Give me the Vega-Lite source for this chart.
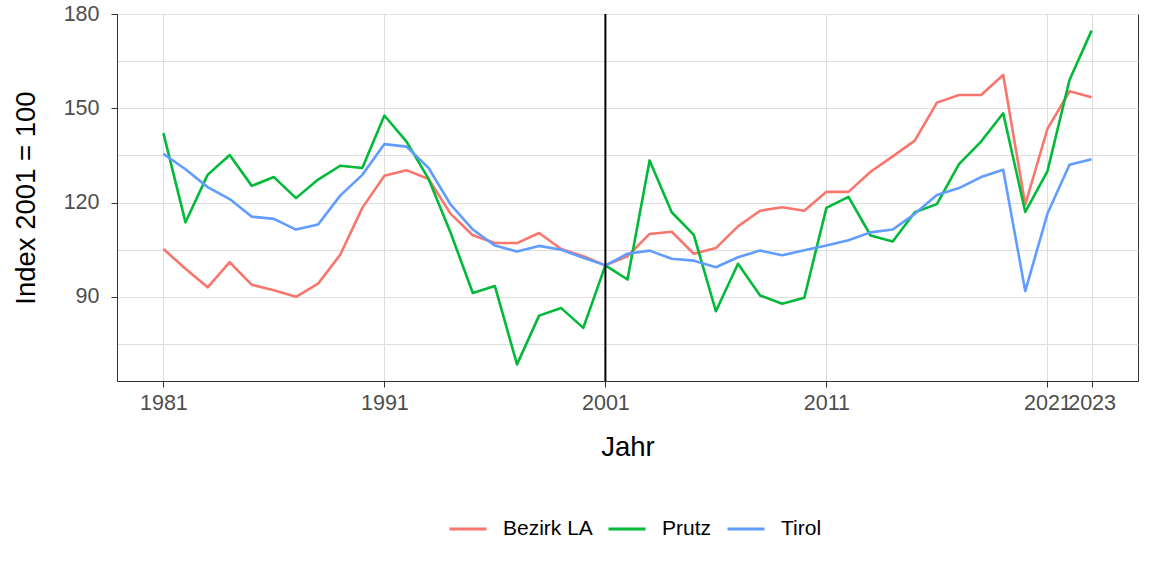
{
  "$schema": "https://vega.github.io/schema/vega-lite/v6.json",
  "width": 1021,
  "height": 367,
  "autosize": {"type": "none"},
  "padding": {"left": 117, "top": 14, "right": 14, "bottom": 195},
  "background": "white",
  "config": {
    "font": "Liberation Sans",
    "view": {"stroke": "#333333", "strokeWidth": 1},
    "axis": {
      "domainColor": "#333333",
      "tickColor": "#333333",
      "gridColor": "#DEDEDE",
      "gridWidth": 1,
      "labelColor": "#4D4D4D",
      "labelFontSize": 21.5,
      "titleFontSize": 27.5,
      "titleFontWeight": "normal",
      "titleColor": "#000000",
      "tickSize": 6
    }
  },
  "datasets": {
    "vline": [{"Jahr": 2001}]
  },
  "data": {
    "values": [
      {"Jahr": 1981, "Region": "Bezirk LA", "Index": 105.2}, {"Jahr": 1981, "Region": "Prutz", "Index": 142.1}, {"Jahr": 1981, "Region": "Tirol", "Index": 135.5},
      {"Jahr": 1982, "Region": "Bezirk LA", "Index": 98.9}, {"Jahr": 1982, "Region": "Prutz", "Index": 113.7}, {"Jahr": 1982, "Region": "Tirol", "Index": 130.6},
      {"Jahr": 1983, "Region": "Bezirk LA", "Index": 93.0}, {"Jahr": 1983, "Region": "Prutz", "Index": 128.8}, {"Jahr": 1983, "Region": "Tirol", "Index": 124.9},
      {"Jahr": 1984, "Region": "Bezirk LA", "Index": 101.0}, {"Jahr": 1984, "Region": "Prutz", "Index": 135.1}, {"Jahr": 1984, "Region": "Tirol", "Index": 121.1},
      {"Jahr": 1985, "Region": "Bezirk LA", "Index": 93.8}, {"Jahr": 1985, "Region": "Prutz", "Index": 125.3}, {"Jahr": 1985, "Region": "Tirol", "Index": 115.5},
      {"Jahr": 1986, "Region": "Bezirk LA", "Index": 92.1}, {"Jahr": 1986, "Region": "Prutz", "Index": 128.1}, {"Jahr": 1986, "Region": "Tirol", "Index": 114.8},
      {"Jahr": 1987, "Region": "Bezirk LA", "Index": 90.0}, {"Jahr": 1987, "Region": "Prutz", "Index": 121.4}, {"Jahr": 1987, "Region": "Tirol", "Index": 111.4},
      {"Jahr": 1988, "Region": "Bezirk LA", "Index": 94.2}, {"Jahr": 1988, "Region": "Prutz", "Index": 127.3}, {"Jahr": 1988, "Region": "Tirol", "Index": 113.0},
      {"Jahr": 1989, "Region": "Bezirk LA", "Index": 103.4}, {"Jahr": 1989, "Region": "Prutz", "Index": 131.7}, {"Jahr": 1989, "Region": "Tirol", "Index": 122.2},
      {"Jahr": 1990, "Region": "Bezirk LA", "Index": 118.3}, {"Jahr": 1990, "Region": "Prutz", "Index": 131.0}, {"Jahr": 1990, "Region": "Tirol", "Index": 128.8},
      {"Jahr": 1991, "Region": "Bezirk LA", "Index": 128.5}, {"Jahr": 1991, "Region": "Prutz", "Index": 147.7}, {"Jahr": 1991, "Region": "Tirol", "Index": 138.6},
      {"Jahr": 1992, "Region": "Bezirk LA", "Index": 130.3}, {"Jahr": 1992, "Region": "Prutz", "Index": 139.4}, {"Jahr": 1992, "Region": "Tirol", "Index": 137.8},
      {"Jahr": 1993, "Region": "Bezirk LA", "Index": 127.5}, {"Jahr": 1993, "Region": "Prutz", "Index": 127.5}, {"Jahr": 1993, "Region": "Tirol", "Index": 131.0},
      {"Jahr": 1994, "Region": "Bezirk LA", "Index": 116.4}, {"Jahr": 1994, "Region": "Prutz", "Index": 110.3}, {"Jahr": 1994, "Region": "Tirol", "Index": 119.3},
      {"Jahr": 1995, "Region": "Bezirk LA", "Index": 109.6}, {"Jahr": 1995, "Region": "Prutz", "Index": 91.2}, {"Jahr": 1995, "Region": "Tirol", "Index": 111.4},
      {"Jahr": 1996, "Region": "Bezirk LA", "Index": 107.1}, {"Jahr": 1996, "Region": "Prutz", "Index": 93.4}, {"Jahr": 1996, "Region": "Tirol", "Index": 106.3},
      {"Jahr": 1997, "Region": "Bezirk LA", "Index": 107.1}, {"Jahr": 1997, "Region": "Prutz", "Index": 68.5}, {"Jahr": 1997, "Region": "Tirol", "Index": 104.4},
      {"Jahr": 1998, "Region": "Bezirk LA", "Index": 110.3}, {"Jahr": 1998, "Region": "Prutz", "Index": 84.0}, {"Jahr": 1998, "Region": "Tirol", "Index": 106.2},
      {"Jahr": 1999, "Region": "Bezirk LA", "Index": 105.2}, {"Jahr": 1999, "Region": "Prutz", "Index": 86.4}, {"Jahr": 1999, "Region": "Tirol", "Index": 105.0},
      {"Jahr": 2000, "Region": "Bezirk LA", "Index": 102.9}, {"Jahr": 2000, "Region": "Prutz", "Index": 80.1}, {"Jahr": 2000, "Region": "Tirol", "Index": 102.4},
      {"Jahr": 2001, "Region": "Bezirk LA", "Index": 100.0}, {"Jahr": 2001, "Region": "Prutz", "Index": 100.0}, {"Jahr": 2001, "Region": "Tirol", "Index": 100.0},
      {"Jahr": 2002, "Region": "Bezirk LA", "Index": 102.9}, {"Jahr": 2002, "Region": "Prutz", "Index": 95.5}, {"Jahr": 2002, "Region": "Tirol", "Index": 103.7},
      {"Jahr": 2003, "Region": "Bezirk LA", "Index": 110.0}, {"Jahr": 2003, "Region": "Prutz", "Index": 133.4}, {"Jahr": 2003, "Region": "Tirol", "Index": 104.7},
      {"Jahr": 2004, "Region": "Bezirk LA", "Index": 110.7}, {"Jahr": 2004, "Region": "Prutz", "Index": 116.9}, {"Jahr": 2004, "Region": "Tirol", "Index": 102.1},
      {"Jahr": 2005, "Region": "Bezirk LA", "Index": 103.7}, {"Jahr": 2005, "Region": "Prutz", "Index": 109.7}, {"Jahr": 2005, "Region": "Tirol", "Index": 101.5},
      {"Jahr": 2006, "Region": "Bezirk LA", "Index": 105.5}, {"Jahr": 2006, "Region": "Prutz", "Index": 85.4}, {"Jahr": 2006, "Region": "Tirol", "Index": 99.4},
      {"Jahr": 2007, "Region": "Bezirk LA", "Index": 112.4}, {"Jahr": 2007, "Region": "Prutz", "Index": 100.5}, {"Jahr": 2007, "Region": "Tirol", "Index": 102.6},
      {"Jahr": 2008, "Region": "Bezirk LA", "Index": 117.4}, {"Jahr": 2008, "Region": "Prutz", "Index": 90.4}, {"Jahr": 2008, "Region": "Tirol", "Index": 104.7},
      {"Jahr": 2009, "Region": "Bezirk LA", "Index": 118.5}, {"Jahr": 2009, "Region": "Prutz", "Index": 87.8}, {"Jahr": 2009, "Region": "Tirol", "Index": 103.2},
      {"Jahr": 2010, "Region": "Bezirk LA", "Index": 117.4}, {"Jahr": 2010, "Region": "Prutz", "Index": 89.7}, {"Jahr": 2010, "Region": "Tirol", "Index": 104.8},
      {"Jahr": 2011, "Region": "Bezirk LA", "Index": 123.4}, {"Jahr": 2011, "Region": "Prutz", "Index": 118.3}, {"Jahr": 2011, "Region": "Tirol", "Index": 106.3},
      {"Jahr": 2012, "Region": "Bezirk LA", "Index": 123.4}, {"Jahr": 2012, "Region": "Prutz", "Index": 121.8}, {"Jahr": 2012, "Region": "Tirol", "Index": 108.0},
      {"Jahr": 2013, "Region": "Bezirk LA", "Index": 129.8}, {"Jahr": 2013, "Region": "Prutz", "Index": 109.5}, {"Jahr": 2013, "Region": "Tirol", "Index": 110.5},
      {"Jahr": 2014, "Region": "Bezirk LA", "Index": 134.7}, {"Jahr": 2014, "Region": "Prutz", "Index": 107.6}, {"Jahr": 2014, "Region": "Tirol", "Index": 111.4},
      {"Jahr": 2015, "Region": "Bezirk LA", "Index": 139.7}, {"Jahr": 2015, "Region": "Prutz", "Index": 116.9}, {"Jahr": 2015, "Region": "Tirol", "Index": 116.4},
      {"Jahr": 2016, "Region": "Bezirk LA", "Index": 151.8}, {"Jahr": 2016, "Region": "Prutz", "Index": 119.5}, {"Jahr": 2016, "Region": "Tirol", "Index": 122.4},
      {"Jahr": 2017, "Region": "Bezirk LA", "Index": 154.2}, {"Jahr": 2017, "Region": "Prutz", "Index": 132.2}, {"Jahr": 2017, "Region": "Tirol", "Index": 124.6},
      {"Jahr": 2018, "Region": "Bezirk LA", "Index": 154.2}, {"Jahr": 2018, "Region": "Prutz", "Index": 139.4}, {"Jahr": 2018, "Region": "Tirol", "Index": 128.1},
      {"Jahr": 2019, "Region": "Bezirk LA", "Index": 160.6}, {"Jahr": 2019, "Region": "Prutz", "Index": 148.4}, {"Jahr": 2019, "Region": "Tirol", "Index": 130.4},
      {"Jahr": 2020, "Region": "Bezirk LA", "Index": 119.3}, {"Jahr": 2020, "Region": "Prutz", "Index": 117.0}, {"Jahr": 2020, "Region": "Tirol", "Index": 91.8},
      {"Jahr": 2021, "Region": "Bezirk LA", "Index": 143.4}, {"Jahr": 2021, "Region": "Prutz", "Index": 129.9}, {"Jahr": 2021, "Region": "Tirol", "Index": 116.4},
      {"Jahr": 2022, "Region": "Bezirk LA", "Index": 155.4}, {"Jahr": 2022, "Region": "Prutz", "Index": 159.0}, {"Jahr": 2022, "Region": "Tirol", "Index": 132.0},
      {"Jahr": 2023, "Region": "Bezirk LA", "Index": 153.5}, {"Jahr": 2023, "Region": "Prutz", "Index": 174.7}, {"Jahr": 2023, "Region": "Tirol", "Index": 133.8}
    ]
  },
  "layer": [
    {
      "mark": {"type": "line", "strokeWidth": 2.6, "strokeJoin": "round", "clip": true},
      "encoding": {
        "x": {
          "field": "Jahr", "type": "quantitative",
          "scale": {"domain": [1978.9, 2025.1], "nice": false, "zero": false},
          "axis": {
            "title": "Jahr",
            "values": [1981, 1991, 2001, 2011, 2021, 2023],
            "format": "d",
            "labelPadding": 5,
            "titlePadding": 20,
            "grid": true,
            "labelFlush": false,
            "labelOverlap": false
          }
        },
        "y": {
          "field": "Index", "type": "quantitative",
          "scale": {"domain": [63.2, 180], "nice": false, "zero": false},
          "axis": {
            "title": "Index 2001 = 100",
            "values": [75, 90, 105, 120, 135, 150, 165, 180],
            "labelExpr": "datum.value % 30 == 0 ? datum.label : ''",
            "tickOpacity": {"condition": {"test": "datum.value % 30 != 0", "value": 0}, "value": 1},
            "labelPadding": 12,
            "titlePadding": 23,
            "grid": true,
            "labelFlush": false,
            "labelOverlap": false
          }
        },
        "color": {
          "field": "Region", "type": "nominal",
          "scale": {"domain": ["Bezirk LA", "Prutz", "Tirol"], "range": ["#F8766D", "#00BA38", "#619CFF"]},
          "legend": {
            "title": null,
            "orient": "none",
            "direction": "horizontal",
            "legendX": 331,
            "legendY": 495,
            "symbolType": "stroke",
            "symbolSize": 1369,
            "symbolStrokeWidth": 3,
            "labelFontSize": 21,
            "labelColor": "#000000",
            "labelOffset": 15,
            "columnPadding": 9
          }
        }
      }
    },
    {
      "data": {"name": "vline"},
      "mark": {"type": "rule", "color": "#000000", "strokeWidth": 2},
      "encoding": {
        "x": {"field": "Jahr", "type": "quantitative"}
      }
    }
  ]
}
